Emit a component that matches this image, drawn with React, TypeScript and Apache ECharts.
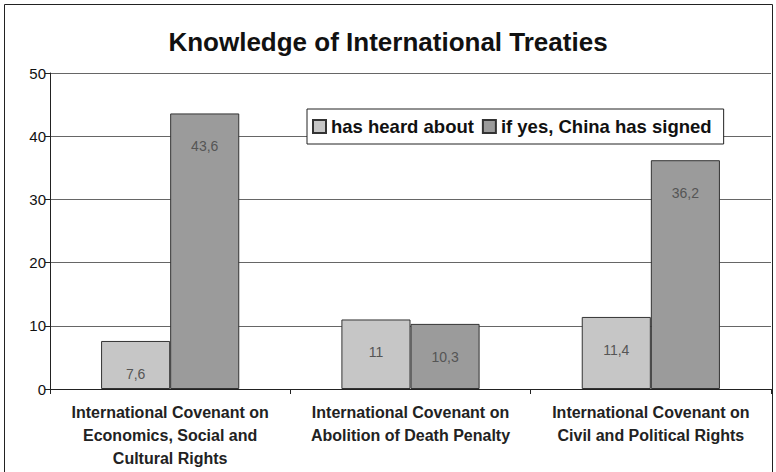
import React, { useEffect, useRef } from "react";
import * as echarts from "echarts";

const categories = [
  "International Covenant on\nEconomics, Social and\nCultural Rights",
  "International Covenant on\nAbolition of Death Penalty",
  "International Covenant on\nCivil and Political Rights",
];
const heardAbout = [7.6, 11, 11.4];
const chinaSigned = [43.6, 10.3, 36.2];
const yTicks = { min: 0, max: 50, interval: 10 };
const seriesNames = ["has heard about", "if yes, China has signed"];

const FONT = "'Liberation Sans', Arial, sans-serif";

export default function App() {
  const ref = useRef<HTMLDivElement>(null);
  useEffect(() => {
    if (!ref.current) return;
    const chart = echarts.init(ref.current, null, { renderer: "svg" });
    const labelCfg = {
      show: true,
      position: "insideTop",
      distance: 26,
      fontFamily: FONT,
      fontSize: 14,
      color: "#555",
      formatter: (p: any) => String(p.value).replace(".", ","),
    };
    chart.setOption({
      animation: false,
      backgroundColor: "#fff",
      title: {
        text: "Knowledge of International Treaties",
        left: "center",
        top: 24,
        textStyle: { fontFamily: FONT, fontSize: 26, fontWeight: "bold", color: "#111" },
      },
      legend: {
        left: 307,
        top: 109,
        orient: "horizontal",
        backgroundColor: "#fff",
        borderColor: "#222",
        borderWidth: 1,
        padding: [8, 12, 8, 5],
        itemWidth: 13,
        itemHeight: 13,
        itemGap: 8,
        icon: "rect",
        textStyle: { fontFamily: FONT, fontSize: 18.5, fontWeight: "bold", color: "#111", padding: [0, 0, 0, 0] },
        data: seriesNames,
      },
      grid: { left: 50, right: 5, top: 73, bottom: 83 },
      xAxis: {
        type: "category",
        data: categories,
        axisLine: { show: true, lineStyle: { color: "#222", width: 1 } },
        axisTick: { show: true, length: 5, inside: false, lineStyle: { color: "#222" } },
        axisLabel: {
          fontFamily: FONT,
          fontSize: 16,
          fontWeight: "bold",
          color: "#222",
          lineHeight: 23,
          margin: 12,
          interval: 0,
        },
        splitLine: { show: false },
      },
      yAxis: {
        type: "value",
        min: yTicks.min,
        max: yTicks.max,
        interval: yTicks.interval,
        axisLine: { show: true, lineStyle: { color: "#222", width: 1 } },
        axisTick: { show: true, length: 5, lineStyle: { color: "#222" } },
        axisLabel: { fontFamily: FONT, fontSize: 15, color: "#111", margin: 4 },
        splitLine: { show: true, lineStyle: { color: "#666", width: 1 } },
      },
      series: [
        {
          name: seriesNames[0],
          type: "bar",
          data: heardAbout,
          barGap: "0%",
          barCategoryGap: "42.5%",
          itemStyle: { color: "#c6c6c6", borderColor: "#333", borderWidth: 1 },
          label: labelCfg,
        },
        {
          name: seriesNames[1],
          type: "bar",
          data: chinaSigned,
          barGap: "0%",
          barCategoryGap: "42.5%",
          itemStyle: { color: "#9b9b9b", borderColor: "#333", borderWidth: 1 },
          label: labelCfg,
        },
      ],
      graphic: [
        {
          type: "rect",
          shape: { x: 4.5, y: 4.5, width: 768, height: 500 },
          style: { fill: "none", stroke: "#222", lineWidth: 1 },
          silent: true,
        },
      ],
    });
    return () => chart.dispose();
  }, []);
  return <div ref={ref} style={{ width: 776, height: 472, position: "absolute", left: 0, top: 0 }} />;
}
